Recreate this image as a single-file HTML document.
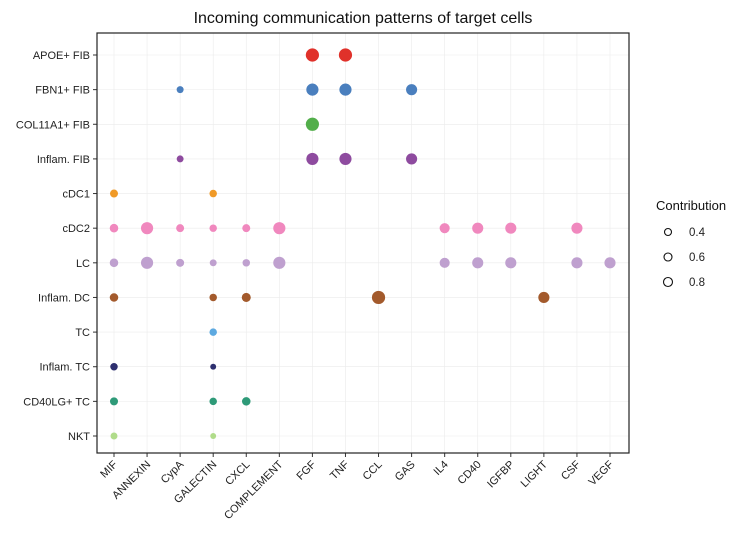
<!DOCTYPE html>
<html><head><meta charset="utf-8"><style>
body{margin:0;background:#fff;font-family:"Liberation Sans",Arial,sans-serif}
svg text{font-family:"Liberation Sans",Arial,sans-serif}
</style></head><body>
<svg width="746" height="540">
<g id="plot"></g>
</svg>
<script>
const cols=["MIF","ANNEXIN","CypA","GALECTIN","CXCL","COMPLEMENT","FGF","TNF","CCL","GAS","IL4","CD40","IGFBP","LIGHT","CSF","VEGF"];
const rows=["APOE+ FIB","FBN1+ FIB","COL11A1+ FIB","Inflam. FIB","cDC1","cDC2","LC","Inflam. DC","TC","Inflam. TC","CD40LG+ TC","NKT"];
const rowColors=["#E0312A","#4A7FBE","#52AE4A","#8E4B9F","#F09A27","#F088BE","#BFA0CF","#A35A2C","#5DA9E0","#2D2F6F","#2E9A78","#B0DC8A"];
// [row, col, contribution]
const points=[
["APOE+ FIB","FGF",1],["APOE+ FIB","TNF",1],
["FBN1+ FIB","CypA",0.4],["FBN1+ FIB","FGF",0.9],["FBN1+ FIB","TNF",0.9],["FBN1+ FIB","GAS",0.8],
["COL11A1+ FIB","FGF",1],
["Inflam. FIB","CypA",0.4],["Inflam. FIB","FGF",0.9],["Inflam. FIB","TNF",0.9],["Inflam. FIB","GAS",0.8],
["cDC1","MIF",0.5],["cDC1","GALECTIN",0.45],
["cDC2","MIF",0.55],["cDC2","ANNEXIN",0.9],["cDC2","CypA",0.5],["cDC2","GALECTIN",0.45],["cDC2","CXCL",0.5],["cDC2","COMPLEMENT",0.9],["cDC2","IL4",0.7],["cDC2","CD40",0.8],["cDC2","IGFBP",0.8],["cDC2","CSF",0.8],
["LC","MIF",0.55],["LC","ANNEXIN",0.9],["LC","CypA",0.5],["LC","GALECTIN",0.4],["LC","CXCL",0.45],["LC","COMPLEMENT",0.9],["LC","IL4",0.7],["LC","CD40",0.8],["LC","IGFBP",0.8],["LC","CSF",0.8],["LC","VEGF",0.8],
["Inflam. DC","MIF",0.55],["Inflam. DC","GALECTIN",0.45],["Inflam. DC","CXCL",0.6],["Inflam. DC","CCL",1],["Inflam. DC","LIGHT",0.8],
["TC","GALECTIN",0.45],
["Inflam. TC","MIF",0.45],["Inflam. TC","GALECTIN",0.3],
["CD40LG+ TC","MIF",0.5],["CD40LG+ TC","GALECTIN",0.45],["CD40LG+ TC","CXCL",0.55],
["NKT","MIF",0.4],["NKT","GALECTIN",0.3]
];
const legendVals=[0.4,0.6,0.8];
const NS="http://www.w3.org/2000/svg";
const g=document.getElementById('plot');
const L=97,R=629,T=33,B=453;
const xs=i=>114+i*(610-114)/(cols.length-1);
const ys=j=>55+j*(436-55)/(rows.length-1);
const rs=v=>1.4+5.2*v;
function mk(t,a,p){const e=document.createElementNS(NS,t);for(const k in a)e.setAttribute(k,a[k]);(p||g).appendChild(e);return e;}
let t=mk('text',{x:363,y:23,'text-anchor':'middle','font-size':16,fill:'#111'});t.textContent="Incoming communication patterns of target cells";


cols.forEach((c,i)=>{const x=xs(i);
 let l=mk('line',{x1:x,x2:x,y1:T,y2:B,stroke:'#ebebeb','stroke-width':0.6});
 
 
 mk('line',{x1:x,x2:x,y1:B,y2:B+4,stroke:'#333'});
 let tx=mk('text',{transform:`translate(${x+4},${B+12}) rotate(-45)`,'text-anchor':'end','font-size':11,fill:'#222'});tx.textContent=c;
 
 
});
rows.forEach((r,j)=>{const y=ys(j);
 let l=mk('line',{x1:L,x2:R,y1:y,y2:y,stroke:'#ebebeb','stroke-width':0.6});
 
 
 mk('line',{x1:L-4,x2:L,y1:y,y2:y,stroke:'#333'});
 let tx=mk('text',{x:L-7,y:y+4,'text-anchor':'end','font-size':11,fill:'#222'});tx.textContent=r;
 
 
});
let fr=mk('rect',{x:L,y:T,width:R-L,height:B-T,fill:'none',stroke:'#222','stroke-width':1.2});


points.forEach(p=>{const j=rows.indexOf(p[0]),i=cols.indexOf(p[1]);
 let c=mk('circle',{cx:xs(i),cy:ys(j),r:rs(p[2]),fill:rowColors[j]});
 
 
});
let lt=mk('text',{x:656,y:210,'font-size':13,fill:'#111'});lt.textContent="Contribution";


legendVals.forEach((v,k)=>{const y=232+k*25;
 let c=mk('circle',{cx:668,cy:y,r:2.5+2.5*v,fill:'none',stroke:'#111','stroke-width':1.1});
 
 
 let tx=mk('text',{x:689,y:y+4,'font-size':11.5,fill:'#222'});tx.textContent=v.toFixed(1);
 
 
});
</script>
</body></html>
